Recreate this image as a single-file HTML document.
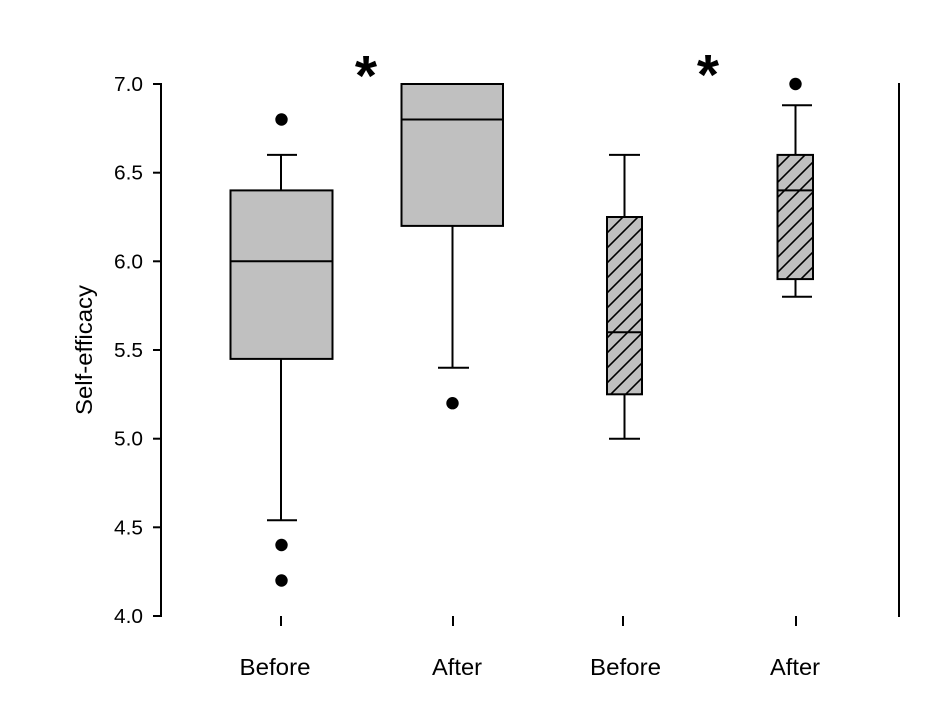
<!DOCTYPE html>
<html><head><meta charset="utf-8"><style>
html,body{margin:0;padding:0;background:#fff;}
svg{display:block;}
text{font-family:"Liberation Sans",Arial,sans-serif;fill:#000;}
</style></head><body>
<svg width="944" height="721" viewBox="0 0 944 721" xmlns="http://www.w3.org/2000/svg">
<defs>
<pattern id="h" patternUnits="userSpaceOnUse" width="15" height="15">
<rect width="15" height="15" fill="#c0c0c0"/>
<path d="M-2,17 L17,-2 M-2,2 L2,-2 M13,17 L17,13" stroke="#000" stroke-width="1.6"/>
</pattern>
</defs>
<g stroke="#000" stroke-width="2" fill="none">
<line x1="161" y1="83" x2="161" y2="617"/>
<line x1="153" y1="84" x2="161" y2="84"/>
<line x1="153" y1="172.7" x2="161" y2="172.7"/>
<line x1="153" y1="261.3" x2="161" y2="261.3"/>
<line x1="153" y1="350" x2="161" y2="350"/>
<line x1="153" y1="438.7" x2="161" y2="438.7"/>
<line x1="153" y1="527.3" x2="161" y2="527.3"/>
<line x1="153" y1="616" x2="161" y2="616"/>
<line x1="899" y1="83" x2="899" y2="617"/>
<line x1="281" y1="616" x2="281" y2="626"/>
<line x1="453" y1="616" x2="453" y2="626"/>
<line x1="623" y1="616" x2="623" y2="626"/>
<line x1="796" y1="616" x2="796" y2="626"/>
</g>
<g font-size="20" text-anchor="end">
<text x="143" y="91" textLength="29" lengthAdjust="spacingAndGlyphs">7.0</text>
<text x="143" y="179.7" textLength="29" lengthAdjust="spacingAndGlyphs">6.5</text>
<text x="143" y="268.3" textLength="29" lengthAdjust="spacingAndGlyphs">6.0</text>
<text x="143" y="357" textLength="29" lengthAdjust="spacingAndGlyphs">5.5</text>
<text x="143" y="445.7" textLength="29" lengthAdjust="spacingAndGlyphs">5.0</text>
<text x="143" y="534.3" textLength="29" lengthAdjust="spacingAndGlyphs">4.5</text>
<text x="143" y="623" textLength="29" lengthAdjust="spacingAndGlyphs">4.0</text>
</g>
<text transform="translate(92,350) rotate(-90)" font-size="23" text-anchor="middle" textLength="130" lengthAdjust="spacingAndGlyphs">Self-efficacy</text>
<g font-size="23" text-anchor="middle">
<text x="275" y="675" textLength="71" lengthAdjust="spacingAndGlyphs">Before</text>
<text x="457" y="675" textLength="50" lengthAdjust="spacingAndGlyphs">After</text>
<text x="625.5" y="675" textLength="71" lengthAdjust="spacingAndGlyphs">Before</text>
<text x="795" y="675" textLength="50" lengthAdjust="spacingAndGlyphs">After</text>
</g>
<g font-size="57" font-weight="bold" text-anchor="middle">
<text x="366" y="95">*</text>
<text x="708" y="94">*</text>
</g>
<g stroke="#000" stroke-width="2">
<line x1="281" y1="154.9" x2="281" y2="190.4"/>
<line x1="267" y1="154.9" x2="297" y2="154.9"/>
<line x1="281" y1="358.9" x2="281" y2="520.2"/>
<line x1="267" y1="520.2" x2="297" y2="520.2"/>
<rect x="230.5" y="190.4" width="102" height="168.5" fill="#c0c0c0"/>
<line x1="230.5" y1="261.3" x2="332.5" y2="261.3"/>
<line x1="452.5" y1="225.9" x2="452.5" y2="367.7"/>
<line x1="438" y1="367.7" x2="469" y2="367.7"/>
<rect x="401.5" y="84" width="101.5" height="141.9" fill="#c0c0c0"/>
<line x1="401.5" y1="119.5" x2="503" y2="119.5"/>
<line x1="624.5" y1="154.9" x2="624.5" y2="217"/>
<line x1="609" y1="154.9" x2="640" y2="154.9"/>
<line x1="624.5" y1="394.3" x2="624.5" y2="438.7"/>
<line x1="609" y1="438.7" x2="640" y2="438.7"/>
<rect x="607" y="217" width="35" height="177.3" fill="url(#h)"/>
<line x1="607" y1="332.3" x2="642" y2="332.3"/>
<line x1="795.5" y1="105.3" x2="795.5" y2="154.9"/>
<line x1="782" y1="105.3" x2="812" y2="105.3"/>
<line x1="795.5" y1="279.1" x2="795.5" y2="296.8"/>
<line x1="782" y1="296.8" x2="812" y2="296.8"/>
<rect x="777.5" y="154.9" width="35.5" height="124.2" fill="url(#h)"/>
<line x1="777.5" y1="190.4" x2="813" y2="190.4"/>
</g>
<g fill="#000">
<circle cx="281.5" cy="119.5" r="6.2"/>
<circle cx="281.5" cy="545" r="6.2"/>
<circle cx="281.5" cy="580.5" r="6.2"/>
<circle cx="452.5" cy="403.2" r="6.2"/>
<circle cx="795.5" cy="84" r="6.2"/>
</g>
</svg>
</body></html>
